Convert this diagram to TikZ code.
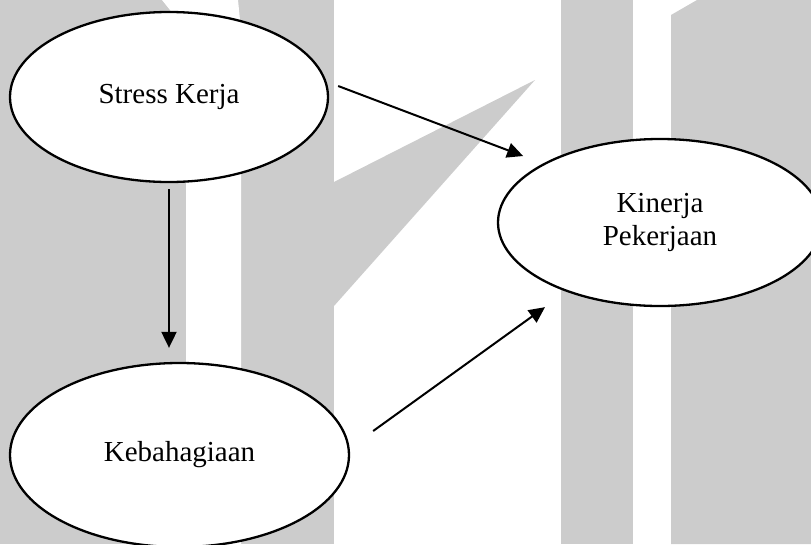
\documentclass[tikz,border=0pt]{standalone}
\usepackage{fontspec}
\setmainfont{Liberation Serif}
\usetikzlibrary{shapes.geometric, arrows.meta}
\begin{document}
\begin{tikzpicture}[x=1pt, y=-1pt, node distance={358pt}, line width=2.3pt, main/.style = {draw, ellipse, fill=white, inner sep=0pt, align=center, font=\fontsize{29}{33}\selectfont}, arr/.style = {-{Triangle[length=16pt, width=15pt]}, line width=2pt}]
		\useasboundingbox (0,0) rectangle (811,544);
		\clip (0,0) rectangle (811,544);
		% grey watermark behind the figure
		\fill[gray!40] (0,0) rectangle (334,544);
		\fill[white] (162,0) -- (238,0) -- (241,30) -- (241,544) -- (186,544) -- (186,30) -- cycle;
		\fill[gray!40] (334,182) -- (535,80) -- (334,306) -- cycle;
		\fill[gray!40] (561,0) rectangle (633,544);
		\fill[gray!40] (671,544) -- (671,15) -- (697,0) -- (811,0) -- (811,544) -- cycle;
		\node[main, minimum width=318pt, minimum height=170pt] (1) at (169,97) {Stress Kerja};
		\node[main, minimum width=339pt, minimum height=184pt] (2) [below of=1, xshift=10.5pt] {Kebahagiaan};
		\node[main, minimum width=324pt, minimum height=167pt] (3) at (660,222.5) {Kinerja\\Pekerjaan};
		\path
		(1.south) edge[arr, shorten <=6pt, shorten >=14pt] (1.south |- 2.north)
		([shift={(9,-11)}]1.east) edge[arr] ([shift={(-18,-8.5)}]3.154)
		([shift={(23,-24)}]2.east) edge[arr] ([shift={(-115,0)}]3.south);
	\end{tikzpicture}
\end{document}
